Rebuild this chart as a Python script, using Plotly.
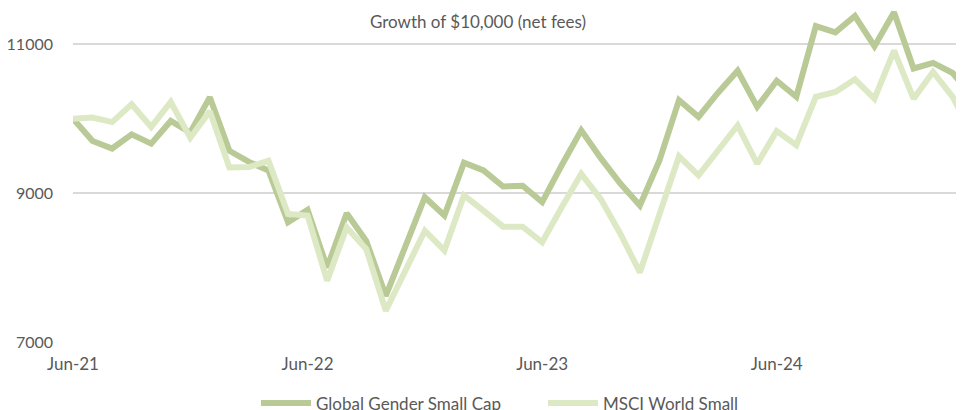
import pandas as pd
import plotly.graph_objects as go

months = [d.strftime("%b-%y") for d in pd.date_range("2021-06-01", "2025-04-01", freq="MS")]

global_gender = [10000, 9700, 9600, 9790, 9665, 9970, 9815, 10290, 9570, 9420,
                 9305, 8610, 8775, 8000, 8730, 8360, 7620, 8270, 8945, 8700,
                 9410, 9305, 9090, 9100, 8880, 9375, 9845, 9470, 9130, 8835,
                 9440, 10250, 10025, 10350, 10645, 10160, 10510, 10295, 11245, 11160,
                 11380, 10975, 11430, 10675, 10750, 10615, 10300]

msci_world_small = [10000, 10015, 9955, 10195, 9890, 10225, 9745, 10100, 9345, 9350,
                    9435, 8720, 8700, 7825, 8540, 8250, 7420, 7950, 8495, 8230,
                    8970, 8765, 8550, 8550, 8340, 8810, 9260, 8920, 8455, 7935,
                    8720, 9495, 9240, 9585, 9910, 9395, 9835, 9645, 10295, 10360,
                    10530, 10270, 10915, 10270, 10630, 10295, 9790]

x_tick_labels = ["Jun-21", "Jun-22", "Jun-23", "Jun-24"]
y_tick_values = [7000, 9000, 11000]
y_tick_labels = ["7000", "9000", "11000"]

FONT = "Lato"
TEXT = "#595959"
GRID = "#d9d9d9"

fig = go.Figure()
fig.add_trace(go.Scatter(x=months, y=global_gender, mode="lines",
                         name="Global Gender Small Cap",
                         line=dict(color="#b9ca96", width=6)))
fig.add_trace(go.Scatter(x=months, y=msci_world_small, mode="lines",
                         name="MSCI World Small",
                         line=dict(color="#dde9c4", width=6)))

fig.update_layout(
    width=964, height=410,
    margin=dict(l=65, r=8, t=0, b=76.3, autoexpand=False),
    paper_bgcolor="white", plot_bgcolor="white",
    font=dict(family=FONT, size=17, color=TEXT),
    title=dict(text="Growth of $10,000 (net fees)", x=470 / 964, xref="container",
               y=1 - 14 / 410, yref="container", xanchor="center", yanchor="middle",
               font=dict(family=FONT, size=17, color=TEXT)),
    showlegend=True,
    legend=dict(orientation="h", x=0.2054, xanchor="left", y=-0.1837, yanchor="middle",
                font=dict(family=FONT, size=17, color=TEXT),
                entrywidth=222, entrywidthmode="pixels", itemwidth=50),
    xaxis=dict(type="category", range=[0, 45.58], tickmode="array",
               tickvals=x_tick_labels, ticktext=x_tick_labels,
               showgrid=False, zeroline=False, showline=False,
               ticks="", ticklabelstandoff=10,
               tickfont=dict(family=FONT, size=17, color=TEXT)),
    yaxis=dict(range=[7000, 11488], tickmode="array", tickvals=y_tick_values,
               ticktext=y_tick_labels,
               showgrid=True, gridcolor=GRID, gridwidth=1.5, zeroline=False,
               showline=False, ticks="", ticklabelstandoff=19,
               tickfont=dict(family=FONT, size=16, color=TEXT)),
)

fig.write_html("out.html")
